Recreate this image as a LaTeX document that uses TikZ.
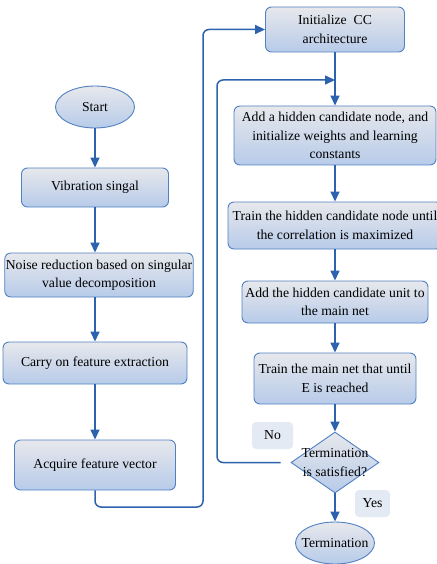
\documentclass[tikz,border=0pt]{standalone}
\usepackage{fontspec}
\setmainfont{Liberation Serif}
\usetikzlibrary{shapes.geometric, arrows.meta}

\definecolor{boxline}{HTML}{4F80C2}
\definecolor{boxtop}{HTML}{E7E8EC}
\definecolor{boxbot}{HTML}{B7CBE9}
\definecolor{flowc}{HTML}{2D62AE}
\definecolor{tagc}{HTML}{E4EAF4}

\tikzset{
  txt/.style={font=\fontsize{13.7}{18.5}\selectfont, align=center},
  box/.style={txt, draw=boxline, line width=0.9pt, rounded corners=6pt, top color=boxtop, bottom color=boxbot, inner xsep=1pt, inner ysep=2pt},
  term/.style={txt, ellipse, draw=boxline, line width=0.9pt, top color=boxtop, bottom color=boxbot, minimum width=79pt, minimum height=42pt, inner xsep=-8pt, inner ysep=0pt},
  flow/.style={draw=flowc, line width=1.5pt, -{Triangle[length=10pt,width=9pt]}},
  tag/.style={txt, fill=tagc, rounded corners=4pt, minimum height=27pt}
}

\begin{document}
\begin{tikzpicture}[x=1pt, y=-1pt]
\useasboundingbox (0,0) rectangle (436,564);

\node[term] (start) at (95,107) {Start};
\node[box, minimum width=147pt, minimum height=39pt] (vib) at (95,187.5) {Vibration singal};
\node[box, minimum width=188pt, minimum height=44pt] (noise) at (99,275) {Noise reduction based on singular\\value decomposition};
\node[box, minimum width=184pt, minimum height=42pt] (carry) at (95,363) {Carry on feature extraction};
\node[box, minimum width=161pt, minimum height=50pt] (acq) at (95,465) {Acquire feature vector};

\node[box, minimum width=139pt, minimum height=45pt] (init) at (335,29.5) {Initialize\ \ CC\\architecture};
\node[box, minimum width=202pt, minimum height=59pt] (addc) at (335,135.5) {Add a hidden candidate node, and\\initialize weights and learning\\constants};
\node[box, minimum width=214pt, minimum height=47pt] (trainc) at (335,225.5) {Train the hidden candidate node until\\the correlation is maximized};
\node[box, minimum width=186pt, minimum height=42pt] (addu) at (335,302) {Add the hidden candidate unit to\\the main net};
\node[box, minimum width=162pt, minimum height=51pt] (trainm) at (335,378.5) {Train the main net that until\\E is reached};
\node[diamond, draw=boxline, line width=0.9pt, top color=boxtop, bottom color=boxbot, minimum width=88pt, minimum height=61pt, inner sep=0pt] (check) at (335,462.5) {};
\node[txt] (checktext) at (check) {Termination\\is satisfied?};
\node[term] (stop) at (335,543) {Termination};

\node[tag, minimum width=41pt] (no) at (272.5,435.5) {No};
\node[tag, minimum width=35pt] (yes) at (372.5,503.5) {Yes};

\coordinate (turn) at (203,507);
\coordinate (back) at (217,80);
\coordinate (merge) at (335,80);

\draw[flow] (start) -- (vib);
\draw[flow] (vib) -- (vib |- noise.north);
\draw[flow] (carry |- noise.south) -- (carry);
\draw[flow] (carry) -- (acq);
\draw[flow, rounded corners=6pt] (acq) |- (turn) |- (init);
\draw[flow] (init) -- (addc);
\draw[flow] (addc) -- (trainc);
\draw[flow] (trainc) -- (addu);
\draw[flow] (addu) -- (trainm);
\draw[flow] (trainm) -- (check);
\draw[flow] (check) -- (stop);
\draw[flow, rounded corners=6pt, shorten <=10pt] (check.west) -| (back) -- (merge);
\end{tikzpicture}
\end{document}
